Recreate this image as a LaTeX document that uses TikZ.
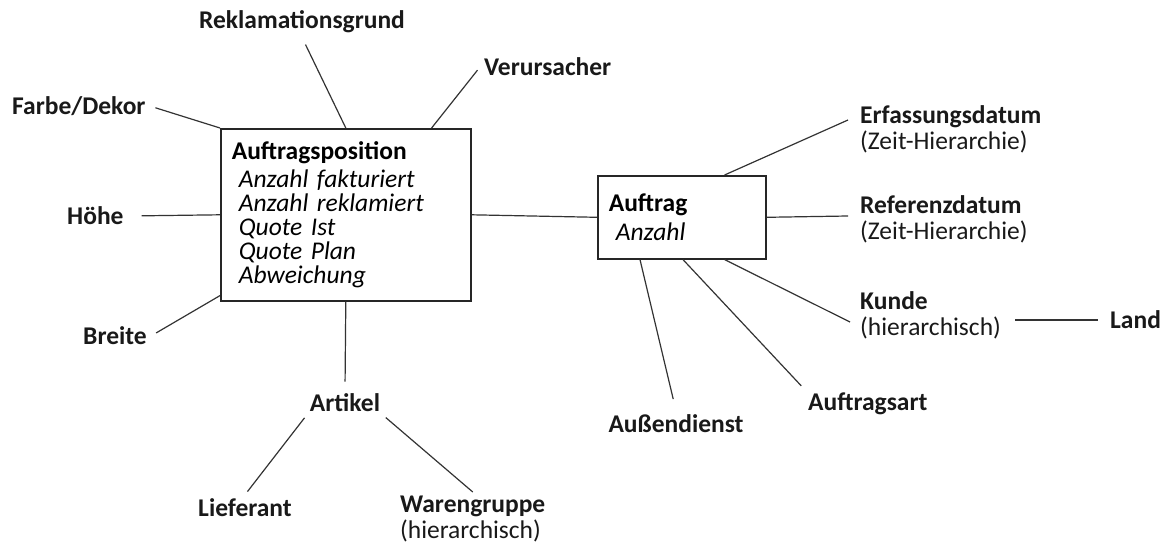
\documentclass[tikz,border=0pt]{standalone}
\usepackage{fontspec}
\setmainfont{Carlito}[ItalicFeatures={WordSpace=0.75}]
\usepackage{tikz}
\usetikzlibrary{positioning, calc}

\begin{document}
\begin{tikzpicture}[
  x=1pt, y=-1pt,
  entity/.style={
    draw=black!85, line width=1.6pt, anchor=north west, align=left,
    inner xsep=11pt, inner ysep=4pt, font=\fontsize{25.5}{24}\selectfont
  },
  attr/.style={
    text=black!90, inner sep=4pt, align=left,
    font=\fontsize{25.5}{26}\selectfont
  },
  battr/.style={attr, font=\fontsize{25.5}{26}\selectfont\bfseries},
  link/.style={line width=1.2pt, black!80}
]
\useasboundingbox (0,0) rectangle (1165,545);

% Fact boxes
\node[entity, minimum width=250pt, minimum height=172pt, text width=228pt] (pos) at (220,128)
  {\textbf{Auftragsposition}\\[4pt]
   \hspace*{7pt}\textit{Anzahl fakturiert}\\
   \hspace*{7pt}\textit{Anzahl reklamiert}\\
   \hspace*{7pt}\textit{Quote Ist}\\
   \hspace*{7pt}\textit{Quote Plan}\\
   \hspace*{7pt}\textit{Abweichung}};
\node[entity, minimum width=168pt, minimum height=83pt, text width=146pt] (auftrag) at (597,175)
  {\textbf{Auftrag}\\[5pt] \hspace*{7pt}\textit{Anzahl}};

% Dimensions around Auftragsposition
\node[battr] (grund) at (302,22) {Reklamationsgrund};
\node[battr, anchor=west] (verur) at (480,67) {Verursacher};
\node[battr, anchor=west] (farbe) at (8,106) {Farbe/Dekor};
\node[battr, anchor=west] (hoehe) at (63,216) {Höhe};
\node[battr, anchor=west] (breite) at (79,336) {Breite};
\node[battr] (artikel) at (345,403) {Artikel};
\node[battr] (lief) at (245,508) {Lieferant};
\node[attr, anchor=north west] (waren) at (396,492) {\textbf{Warengruppe}\\(hierarchisch)};

% Dimensions around Auftrag
\node[attr, anchor=west] (erf) at (856,129) {\textbf{Erfassungsdatum}\\(Zeit-Hierarchie)};
\node[attr, anchor=west] (ref) at (856,219) {\textbf{Referenzdatum}\\(Zeit-Hierarchie)};
\node[attr, anchor=west] (kunde) at (856,315) {\textbf{Kunde}\\(hierarchisch)};
\node[battr, anchor=west] (land) at (1106,320) {Land};
\node[battr, anchor=west] (art) at (804,404) {Auftragsart};
\node[battr] (aussen) at (676,424) {Außendienst};

% Links of Auftragsposition
\draw[link, shorten <=6pt] (farbe.east) -- (pos.north west);
\draw[link, shorten <=8pt] (grund.south) -- (pos.north);
\draw[link, shorten <=4pt] (verur.west) -- ($(pos.north east)+(-40,0)$);
\draw[link, shorten <=14pt] (hoehe.east) -- (pos.west);
\draw[link, shorten <=6pt] (breite.east) -- ($(pos.south west)+(0,-6)$);
\draw[link, shorten >=8pt] (pos.south) -- (artikel.north);
\draw[link, shorten <=2pt, shorten >=4pt] (artikel.south west) -- (lief.north);
\draw[link, shorten <=2pt] (artikel.south east) -- (waren.north);
\draw[link] (pos.east) -- (auftrag.west);

% Links of Auftrag
\draw[link] ($(auftrag.north east)+(-42,0)$) -- ($(erf.west)+(-8,-9)$);
\draw[link] (auftrag.east) -- ($(ref.west)+(-8,-3)$);
\draw[link] ($(auftrag.south east)+(-42,0)$) -- ($(kunde.west)+(-6,7)$);
\draw[link, shorten <=10pt, shorten >=8pt] (kunde.east |- land.west) -- (land.west);
\draw[link, shorten >=4pt] ($(auftrag.south west)+(86,0)$) -- (art.north west);
\draw[link, shorten >=12pt] ($(auftrag.south west)+(43,0)$) -- (aussen.north);

\end{tikzpicture}
\end{document}
